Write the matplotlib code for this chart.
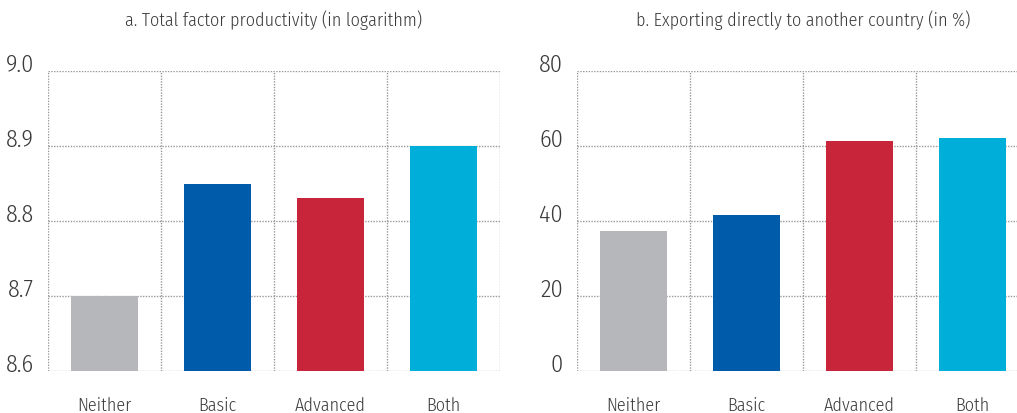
#!/usr/bin/env python3
"""Two-panel bar chart: TFP and direct exporting by technology adoption."""

import matplotlib

matplotlib.use("Agg")
import matplotlib.pyplot as plt
from matplotlib.ticker import FixedLocator

plt.rcParams["font.family"] = ["Fira Sans Condensed", "PT Sans Narrow", "DejaVu Sans"]
plt.rcParams["font.weight"] = 300

CATEGORIES = ["Neither", "Basic", "Advanced", "Both"]
TFP_VALUES = [8.70, 8.85, 8.83, 8.90]
EXPORT_VALUES = [37.3, 41.6, 61.3, 62.1]

TFP_TICKS = [8.6, 8.7, 8.8, 8.9, 9.0]
TFP_TICK_LABELS = ["8.6", "8.7", "8.8", "8.9", "9.0"]
EXPORT_TICKS = [0, 20, 40, 60, 80]
EXPORT_TICK_LABELS = ["0", "20", "40", "60", "80"]

TITLES = [
    "a. Total factor productivity (in logarithm)",
    "b. Exporting directly to another country (in %)",
]

BAR_COLORS = ["#B6B7BB", "#005BAA", "#C8243A", "#00AEDA"]
TEXT_COLOR = "#3a3a3a"
GRID_COLOR = "#999999"

W, H = 1017, 414
AX_TOP, AX_BOTTOM = 72, 372


def style_panel(ax, values, ticks, tick_labels, title):
    x = range(len(CATEGORIES))
    ax.bar(x, [v - ticks[0] for v in values], bottom=ticks[0], width=0.6,
           color=BAR_COLORS, zorder=3)
    ax.set_xlim(-0.5, len(CATEGORIES) - 0.5)
    ax.set_ylim(ticks[0], ticks[-1])

    ax.set_yticks(ticks)
    ax.set_yticklabels(tick_labels, fontsize=17.5, color=TEXT_COLOR)
    for label in ax.get_yticklabels():
        label.set_verticalalignment("baseline")
    ax.set_xticks(list(x))
    ax.set_xticklabels(CATEGORIES, fontsize=13, color=TEXT_COLOR)
    ax.xaxis.set_minor_locator(
        FixedLocator([i - 0.5 for i in range(len(CATEGORIES) + 1)]))

    ax.tick_params(axis="both", which="both", length=0)
    ax.tick_params(axis="y", pad=10)
    ax.tick_params(axis="x", pad=18)

    ax.grid(True, axis="y", which="major", linestyle=(0, (1, 1)),
            color=GRID_COLOR, linewidth=1.0, zorder=1)
    ax.grid(True, axis="x", which="minor", linestyle=(0, (1, 1)),
            color=GRID_COLOR, linewidth=1.0, zorder=1)
    ax.grid(False, axis="x", which="major")
    for spine in ax.spines.values():
        spine.set_visible(False)
    ax.set_axisbelow(True)

    # title centre sits about 20 px below the top of the figure
    title_y = (AX_BOTTOM - 20) / (AX_BOTTOM - AX_TOP)
    ax.text(0.5, title_y, title, transform=ax.transAxes, ha="center",
            va="center", fontsize=13, color=TEXT_COLOR)


def main():
    fig = plt.figure(figsize=(W / 100, H / 100), dpi=100)
    fig.patch.set_facecolor("white")

    height = (AX_BOTTOM - AX_TOP) / H
    ax_left = fig.add_axes([48 / W, 1 - AX_BOTTOM / H, 452 / W, height])
    # the right panel runs past the figure edge, as in the source
    ax_right = fig.add_axes([577 / W, 1 - AX_BOTTOM / H, 452 / W, height])

    style_panel(ax_left, TFP_VALUES, TFP_TICKS, TFP_TICK_LABELS, TITLES[0])
    style_panel(ax_right, EXPORT_VALUES, EXPORT_TICKS, EXPORT_TICK_LABELS,
                TITLES[1])
    fig.savefig("out.png", dpi=100)
    plt.close(fig)


if __name__ == "__main__":
    main()
